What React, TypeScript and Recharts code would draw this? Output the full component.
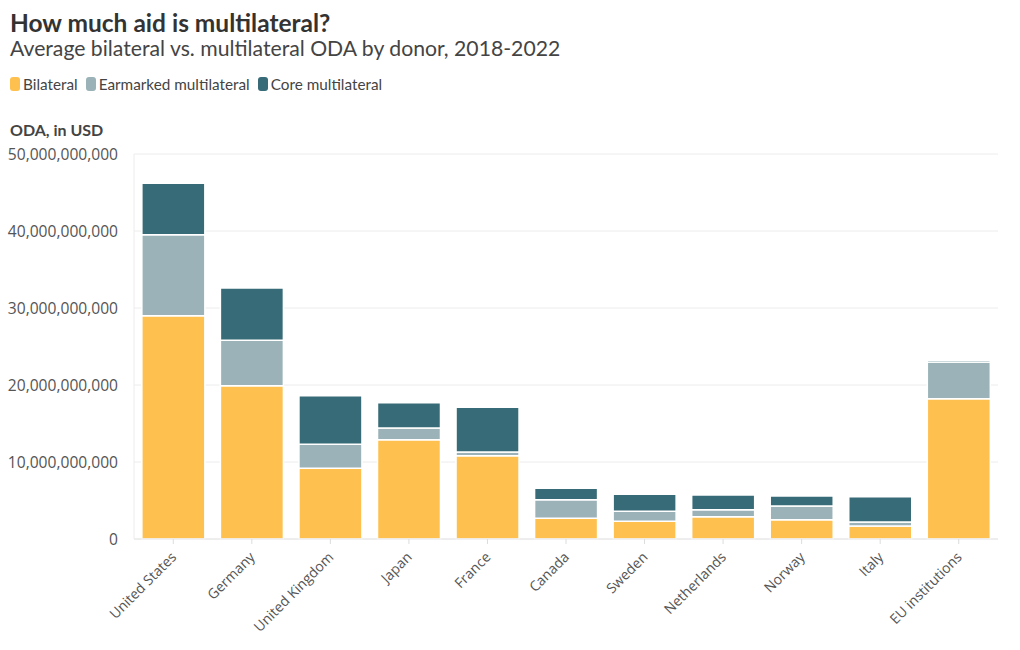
import { BarChart, Bar, XAxis, YAxis, CartesianGrid } from 'recharts';

const donors = [
  'United States', 'Germany', 'United Kingdom', 'Japan', 'France', 'Canada',
  'Sweden', 'Netherlands', 'Norway', 'Italy', 'EU institutions',
];
// billions of USD
const bilateral = [29.0, 19.9, 9.2, 12.9, 10.8, 2.7, 2.3, 2.9, 2.5, 1.7, 18.2];
const earmarked = [10.5, 5.9, 3.1, 1.5, 0.5, 2.4, 1.3, 0.9, 1.8, 0.5, 4.8];
const core = [6.7, 6.8, 6.3, 3.3, 5.8, 1.5, 2.2, 1.9, 1.3, 3.3, 0.2];
const yTicks = [0, 10e9, 20e9, 30e9, 40e9, 50e9];

const colors = { bilateral: '#fec150', earmarked: '#9bb3b8', core: '#376b77' };
const legendItems = [
  { label: 'Bilateral', color: colors.bilateral },
  { label: 'Earmarked multilateral', color: colors.earmarked },
  { label: 'Core multilateral', color: colors.core },
];

const data = donors.map((name, i) => ({
  name,
  bilateral: bilateral[i] * 1e9,
  earmarked: earmarked[i] * 1e9,
  core: core[i] * 1e9,
}));

const headFont = 'Lato, "Noto Sans", sans-serif';
const tickFont = '"Open Sans", sans-serif';

export default function App() {
  return (
    <div style={{ position: 'absolute', left: 0, top: 0, width: 1020, height: 650, background: '#fff', color: '#333' }}>
      <div style={{ position: 'absolute', left: 10, top: 8, fontFamily: headFont, fontWeight: 700, fontSize: 24.5, lineHeight: '30px' }}>
        How much aid is multilateral?
      </div>
      <div style={{ position: 'absolute', left: 10, top: 35, fontFamily: headFont, fontSize: 21.2, lineHeight: '27px', color: '#444' }}>
        Average bilateral vs. multilateral ODA by donor, 2018-2022
      </div>
      <div style={{ position: 'absolute', left: 10, top: 75, display: 'flex', alignItems: 'center', fontFamily: headFont, fontSize: 15.3, color: '#444' }}>
        {legendItems.map((item) => (
          <div key={item.label} style={{ display: 'flex', alignItems: 'center', marginRight: 8 }}>
            <span style={{ display: 'inline-block', width: 10, height: 14, borderRadius: 3, background: item.color, marginRight: 3 }} />
            <span>{item.label}</span>
          </div>
        ))}
      </div>
      <div style={{ position: 'absolute', left: 10, top: 120, fontFamily: headFont, fontWeight: 700, fontSize: 16, color: '#444' }}>
        ODA, in USD
      </div>
      <div style={{ position: 'absolute', left: 0, top: 0 }}>
        <BarChart
          width={1020}
          height={650}
          data={data}
          margin={{ top: 154, right: 22, bottom: 0, left: 0 }}
          barCategoryGap="10%"
        >
          <CartesianGrid stroke="#ececec" vertical={false} />
          <XAxis
            dataKey="name"
            height={111}
            interval={0}
            axisLine={{ stroke: '#e6e6e6' }}
            tickLine={{ stroke: '#dcdcdc' }}
            tickSize={5}
            tick={(props: any) => (
              <text
                x={props.x + 4}
                y={props.y + 12}
                transform={`rotate(-45, ${props.x + 4}, ${props.y + 12})`}
                textAnchor="end"
                fontSize={14}
                fontFamily={tickFont}
                fill="#555"
              >
                {props.payload.value}
              </text>
            )}
          />
          <YAxis
            width={134}
            domain={[0, 50e9]}
            ticks={yTicks}
            axisLine={{ stroke: '#ececec' }}
            tickLine={false}
            tickMargin={10}
            tick={{ fontSize: 15.6, fontFamily: tickFont, fill: '#555' }}
            tickFormatter={(v) => Number(v).toLocaleString('en-US')}
          />
          <Bar dataKey="bilateral" stackId="a" fill={colors.bilateral} stroke="#fff" strokeWidth={1.5} isAnimationActive={false} />
          <Bar dataKey="earmarked" stackId="a" fill={colors.earmarked} stroke="#fff" strokeWidth={1.5} isAnimationActive={false} />
          <Bar dataKey="core" stackId="a" fill={colors.core} stroke="#fff" strokeWidth={1.5} isAnimationActive={false} />
        </BarChart>
      </div>
    </div>
  );
}
